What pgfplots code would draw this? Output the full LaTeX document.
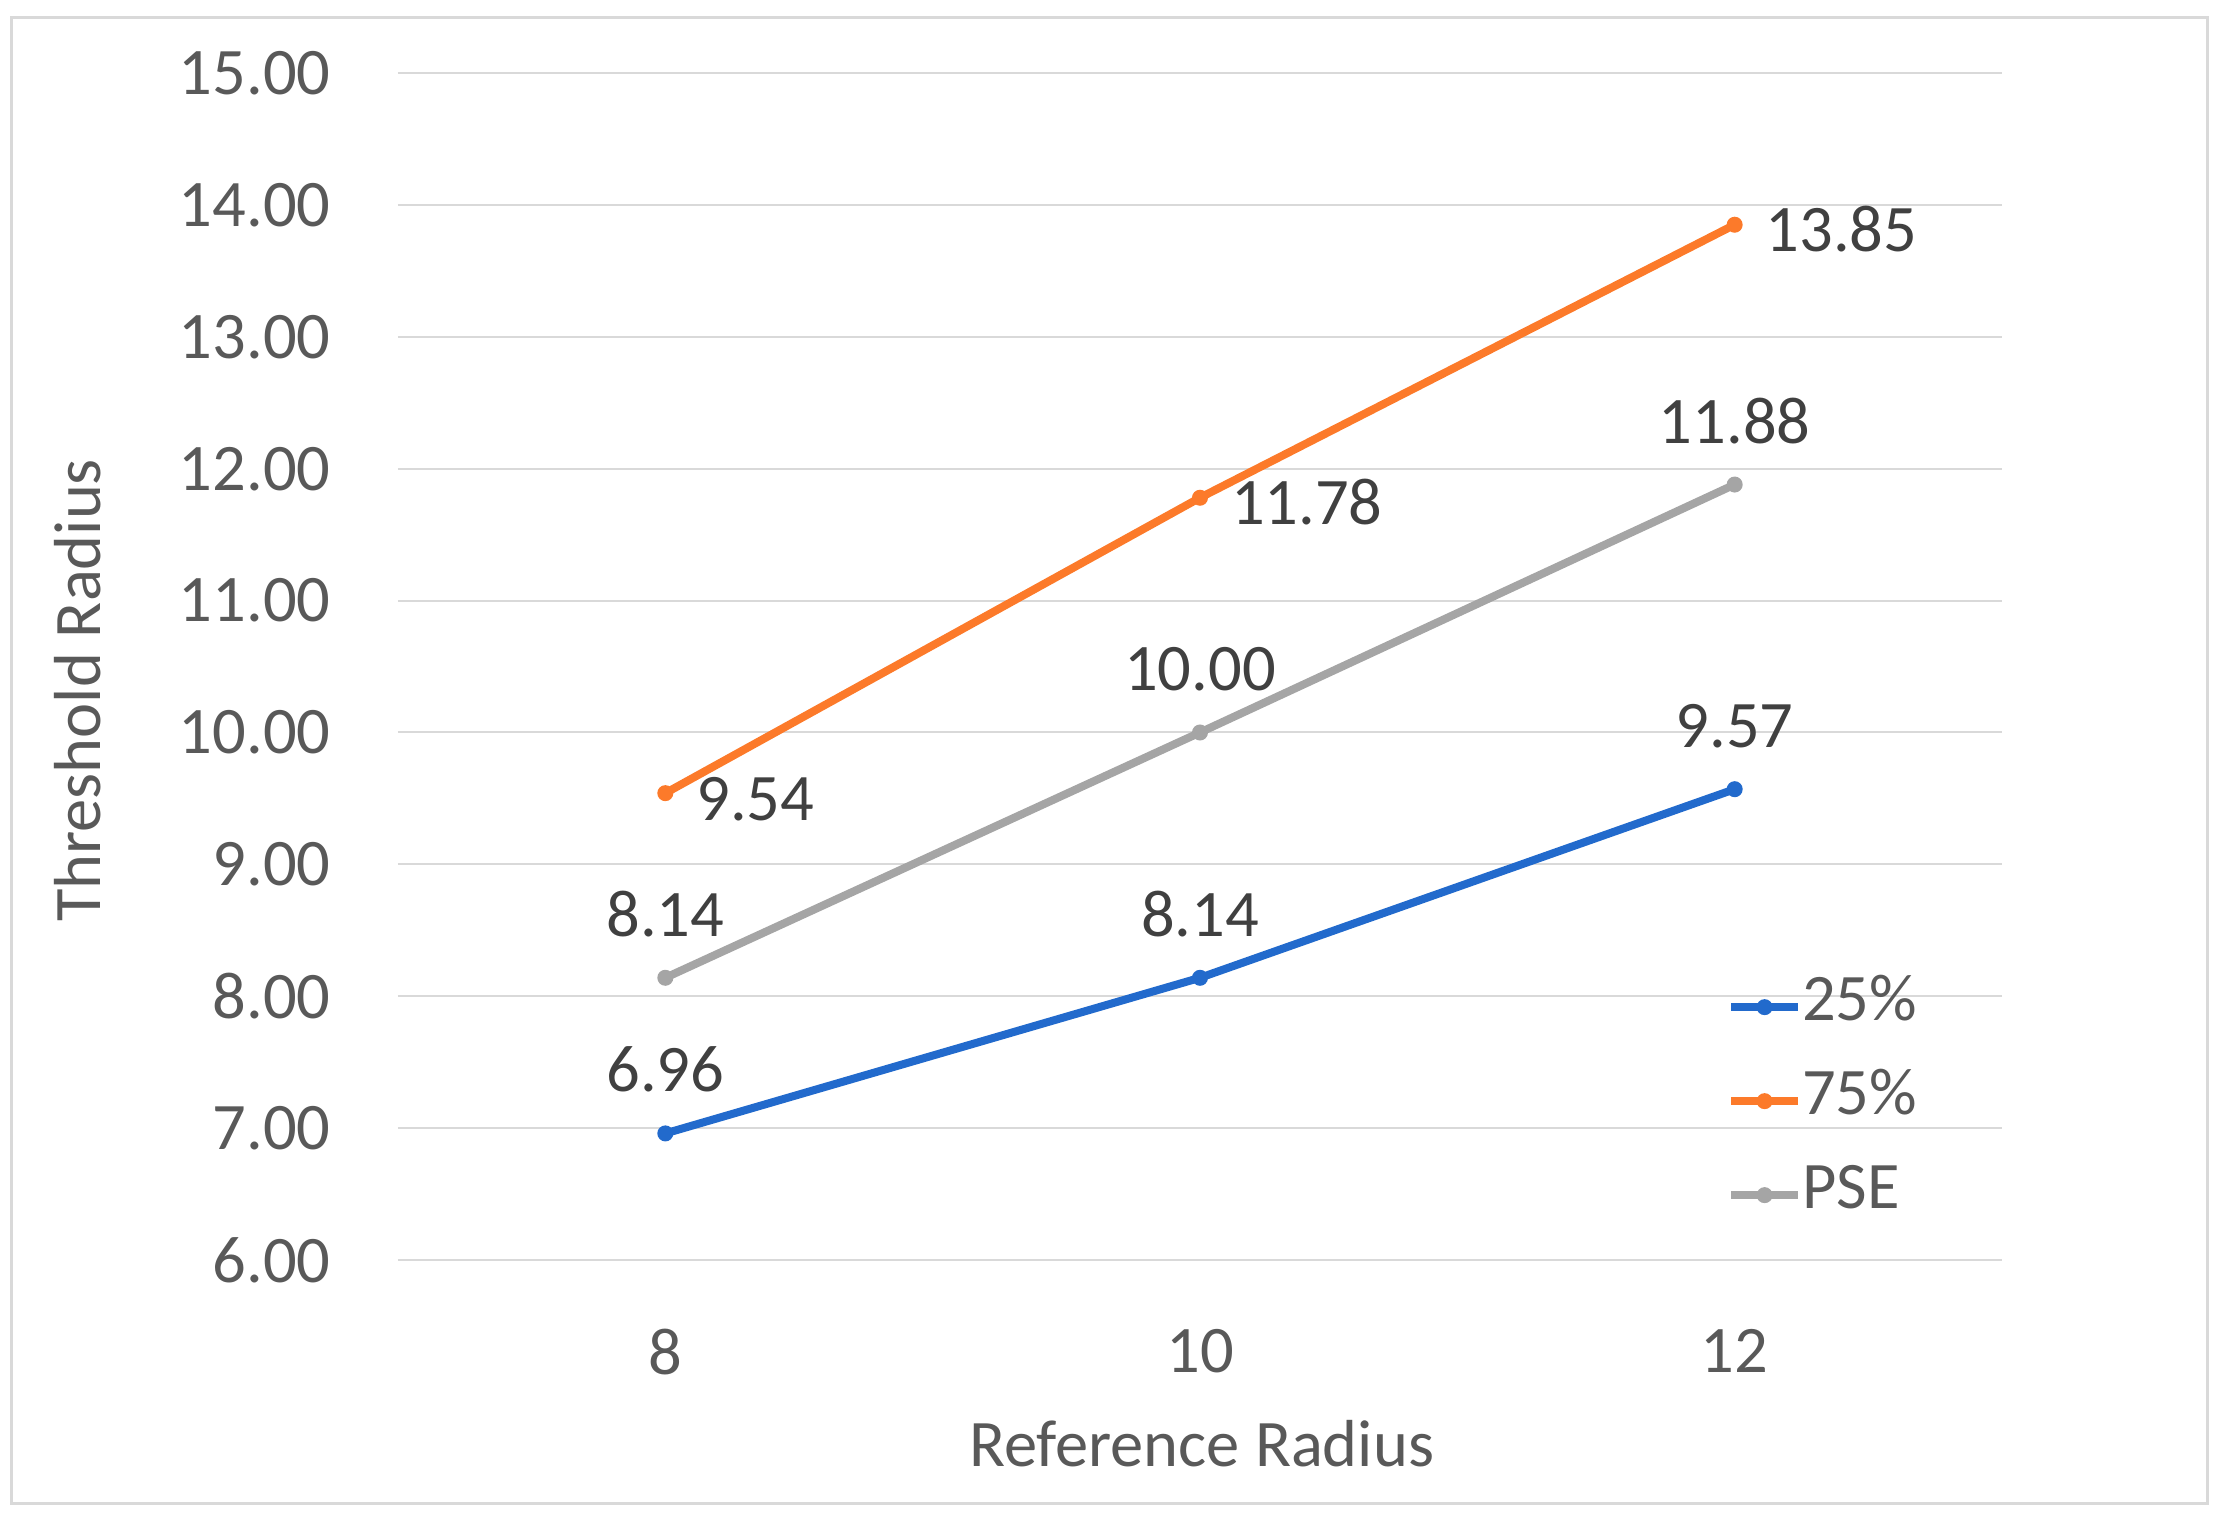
\documentclass[border=0pt]{standalone}
\usepackage{pgfplots}
\pgfplotsset{compat=1.18}
\usepackage{fontspec}
\setmainfont{Carlito}
\definecolor{cblue}{RGB}{34,106,204}
\definecolor{corange}{RGB}{252,122,42}
\definecolor{cgray}{RGB}{165,165,165}
\definecolor{gridc}{RGB}{217,217,217}
\definecolor{tickc}{RGB}{89,89,89}
\definecolor{labc}{RGB}{64,64,64}
\begin{document}
\begin{tikzpicture}
\fontsize{13.3}{16}\selectfont
\path (-79.6pt,-51.4pt) rectangle (366.6pt,252pt);
\draw[gridc, line width=0.6pt] (-77.2pt,-48.6pt) rectangle (361.8pt,248.6pt);
\begin{axis}[
  at={(0,0)}, anchor=south west,
  scale only axis, width=320.8pt, height=237.4pt,
  xmin=-0.5, xmax=2.5, ymin=6, ymax=15,
  xtick={0,1,2}, xticklabels={8,10,12},
  ytick={6,7,...,15},
  axis line style={draw=none},
  major tick length=0,
  ymajorgrids, grid style={gridc, line width=0.4pt},
  yticklabel={\pgfmathprintnumber[fixed,zerofill,precision=2,assume math mode=true]{\tick}},
  tick label style={font=\fontsize{13.3}{16}\selectfont, text=tickc},
  yticklabel style={anchor=east, inner sep=0pt, xshift=-13.3pt},
  xticklabel style={anchor=north, inner sep=0pt, yshift=-13.6pt},
  xlabel={Reference Radius}, ylabel={Threshold Radius},
  label style={font=\fontsize{13.3}{16}\selectfont, text=tickc},
  xlabel style={at={(axis description cs:0.501,-0.155)}, anchor=center},
  ylabel style={at={(axis description cs:-0.1995,0.480)}, anchor=center, rotate=0},
  nodes near coords={\pgfmathprintnumber[fixed,zerofill,precision=2,assume math mode=true]{\pgfplotspointmeta}},
  nodes near coords style={font=\fontsize{13.3}{16}\selectfont, text=labc, inner sep=0pt},
  legend style={draw=none, fill=none, at={(axis description cs:0.828,0.2535)}, anchor=north west,
    inner sep=0pt, row sep=0pt, font=\fontsize{13.3}{16}\selectfont, text=tickc,
    nodes={inner sep=0pt, text height=12pt, text depth=6.8pt, anchor=west}},
  legend cell align=left,
  legend image code/.code={\draw[#1, mark repeat=2, mark phase=2] plot coordinates {(0pt,0pt)(6.7pt,0pt)(13.4pt,0pt)};},
  clip=false,
]
\addplot[cblue, line width=1.6pt, mark=*, mark size=1.4pt, mark options={fill=cblue, line width=0.4pt},
  every node near coord/.append style={anchor=base, yshift=8.3pt}]
  coordinates {(0,6.96) (1,8.14) (2,9.57)};
\addlegendentry{25\%}
\addplot[corange, line width=1.6pt, mark=*, mark size=1.4pt, mark options={fill=corange, line width=0.4pt},
  every node near coord/.append style={anchor=base west, xshift=6pt, yshift=-5.4pt}]
  coordinates {(0,9.54) (1,11.78) (2,13.85)};
\addlegendentry{75\%}
\addplot[cgray, line width=1.6pt, mark=*, mark size=1.4pt, mark options={fill=cgray, line width=0.4pt},
  every node near coord/.append style={anchor=base, yshift=8.3pt}]
  coordinates {(0,8.14) (1,10.00) (2,11.88)};
\addlegendentry{PSE}
\end{axis}
\end{tikzpicture}
\end{document}
